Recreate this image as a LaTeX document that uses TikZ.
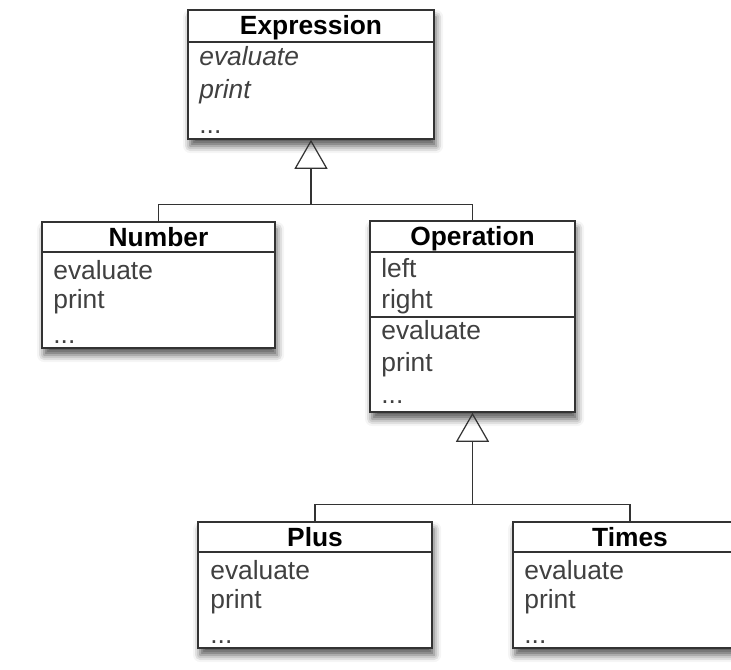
\documentclass[tikz,border=0pt]{standalone}
\usepackage{fontspec}
\setmainfont{Liberation Sans}
\usetikzlibrary{positioning, calc, arrows.meta, shadows.blur}

\begin{document}
\begin{tikzpicture}[x=0.02cm, y=-0.02cm,
        classbox/.style = {draw=black!80, line width=0.9pt, fill=white, inner sep=0pt,
            blur shadow={shadow xshift=1.2pt, shadow yshift=-4pt, shadow blur radius=4pt, shadow opacity=65}},
        title/.style = {anchor=base, inner sep=0pt, font=\fontsize{15}{18}\selectfont\bfseries},
        member/.style = {anchor=base west, inner sep=0pt, text=black!75, font=\fontsize{15}{18}\selectfont},
        link/.style = {draw=black!80, line width=0.7pt},
        inherit/.style = {link, -{Triangle[open, length=0.58cm, width=0.66cm]}}]
    \useasboundingbox (0,0) rectangle (731,670);
    % the boxes
    \node[classbox, minimum width=4.92cm, minimum height=2.58cm] (expr) at (311,74.5) {};
    \node[classbox, minimum width=4.66cm, minimum height=2.52cm] (num) at (158.5,285) {};
    \node[classbox, minimum width=4.10cm, minimum height=3.82cm] (op) at (472.5,316.5) {};
    \node[classbox, minimum width=4.68cm, minimum height=2.52cm] (plus) at (315,585) {};
    \node[classbox, minimum width=4.68cm, minimum height=2.52cm] (times) at (630,585) {};
    % compartments
    \draw[link] (expr.west |- 0,42) -- (expr.east |- 0,42);
    \draw[link] (num.west |- 0,252) -- (num.east |- 0,252);
    \draw[link] (op.west |- 0,252) -- (op.east |- 0,252);
    \draw[link] (op.west |- 0,317) -- (op.east |- 0,317);
    \draw[link] (plus.west |- 0,552) -- (plus.east |- 0,552);
    \draw[link] (times.west |- 0,552) -- (times.east |- 0,552);
    % names
    \node[title] (exprname) at (311,34) {Expression};
    \node[title] (numname) at (158.5,246) {Number};
    \node[title] (opname) at (472.5,245) {Operation};
    \node[title] (plusname) at (315,546) {Plus};
    \node[title] (timesname) at (630,546) {Times};
    % members
    \node[member, font=\fontsize{15}{18}\selectfont\itshape] (expreval) at (199,65) {evaluate};
    \node[member, font=\fontsize{15}{18}\selectfont\itshape] (exprprint) at (199,98) {print};
    \node[member] (exprdots) at (199,133) {...};
    \node[member] (numeval) at (53,279) {evaluate};
    \node[member] (numprint) at (53,308) {print};
    \node[member] (numdots) at (53,343) {...};
    \node[member] (opleft) at (381,277) {left};
    \node[member] (opright) at (381,308) {right};
    \node[member] (opeval) at (381,339) {evaluate};
    \node[member] (opprint) at (381,371) {print};
    \node[member] (opdots) at (381,403) {...};
    \node[member] (pluseval) at (210,579) {evaluate};
    \node[member] (plusprint) at (210,608) {print};
    \node[member] (plusdots) at (210,643) {...};
    \node[member] (timeseval) at (524,579) {evaluate};
    \node[member] (timesprint) at (524,608) {print};
    \node[member] (timesdots) at (524,643) {...};
    % inheritance
    \coordinate[below=1.3cm of expr] (j1);
    \coordinate[below=1.84cm of op] (j2);
    \draw[link] (num.north) |- (j1) -| (op.north);
    \draw[inherit] (j1) -- (expr.south);
    \draw[link] (plus.north) |- (j2) -| (times.north);
    \draw[inherit] (j2) -- (op.south);
\end{tikzpicture}
\end{document}
